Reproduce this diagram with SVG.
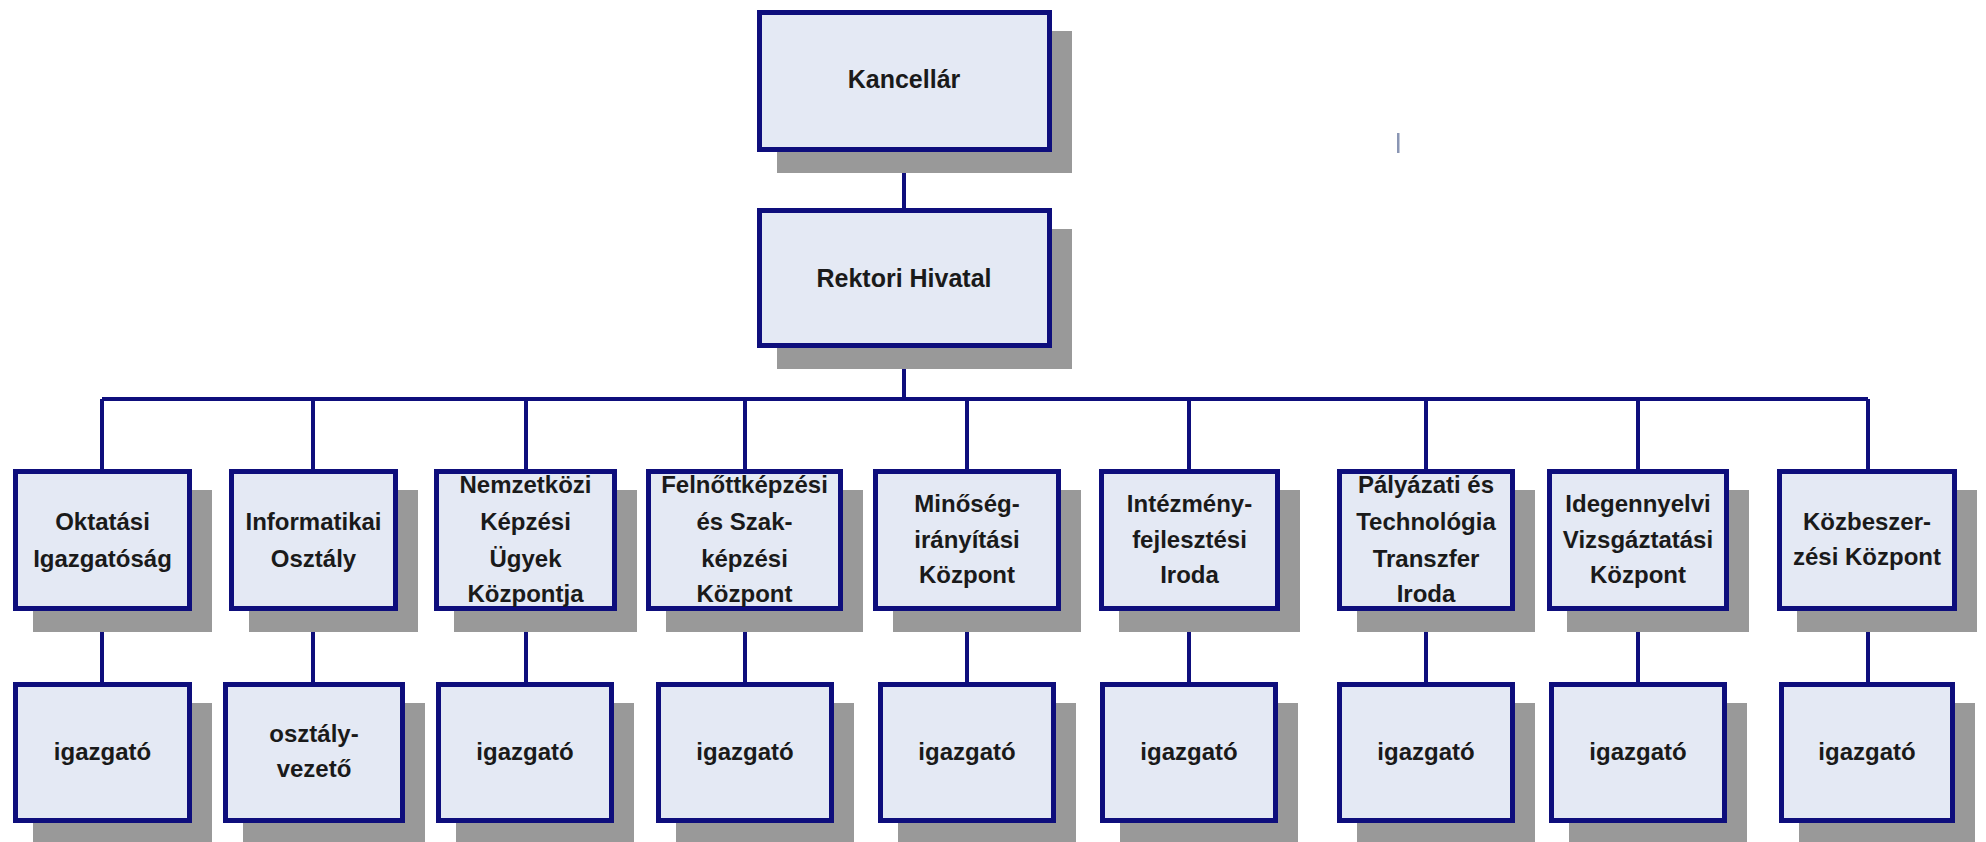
<svg xmlns="http://www.w3.org/2000/svg" width="1986" height="842" viewBox="0 0 1986 842">
<style>
.sh{fill:#999999}
.bx{fill:#E4E9F4;stroke:#0E0E7C;stroke-width:5}
.t{font-family:"Liberation Sans",Arial,sans-serif;font-weight:bold;font-size:24px;fill:#1a1a1a;text-anchor:middle}
.t2{font-size:25px}
.ln{stroke:#0E0E7C;stroke-width:4;fill:none}
</style>
<rect width="1986" height="842" fill="#ffffff"/>
<g id="connectors">
<path class="ln" d="M904 152V208M904 348V399M102 399H1868"/>
<path class="ln" d="M102 399V469M313 399V469M526 399V469M745 399V469M967 399V469M1189 399V469M1426 399V469M1638 399V469M1868 399V469"/>
<path class="ln" d="M102 611V682M313 611V682M526 611V682M745 611V682M967 611V682M1189 611V682M1426 611V682M1638 611V682M1868 611V682"/>
</g>
<g id="kancellar"><rect class="sh" x="777" y="31" width="295" height="142"/><rect class="bx" x="759.5" y="12.5" width="290" height="137"/><text class="t t2" x="904" y="88">Kancellár</text></g>
<g id="rektori"><rect class="sh" x="777" y="229" width="295" height="140"/><rect class="bx" x="759.5" y="210.5" width="290" height="135"/><text class="t t2" x="904" y="287">Rektori Hivatal</text></g>

<g id="n1"><rect class="sh" x="33" y="490" width="179" height="142"/><rect class="bx" x="15.5" y="471.5" width="174" height="137"/><text class="t" x="102.5" y="530">Oktatási</text><text class="t" x="102.5" y="567">Igazgatóság</text></g>
<g id="n2"><rect class="sh" x="249" y="490" width="169" height="142"/><rect class="bx" x="231.5" y="471.5" width="164" height="137"/><text class="t" x="313.5" y="530">Informatikai</text><text class="t" x="313.5" y="567">Osztály</text></g>
<g id="n3"><rect class="sh" x="454" y="490" width="183" height="142"/><rect class="bx" x="436.5" y="471.5" width="178" height="137"/><text class="t" x="525.5" y="493">Nemzetközi</text><text class="t" x="525.5" y="530">Képzési</text><text class="t" x="525.5" y="567">Ügyek</text><text class="t" x="525.5" y="602">Központja</text></g>
<g id="n4"><rect class="sh" x="666" y="490" width="197" height="142"/><rect class="bx" x="648.5" y="471.5" width="192" height="137"/><text class="t" x="744.5" y="493">Felnőttképzési</text><text class="t" x="744.5" y="530">és Szak-</text><text class="t" x="744.5" y="567">képzési</text><text class="t" x="744.5" y="602">Központ</text></g>
<g id="n5"><rect class="sh" x="893" y="490" width="188" height="142"/><rect class="bx" x="875.5" y="471.5" width="183" height="137"/><text class="t" x="967" y="512">Minőség-</text><text class="t" x="967" y="548">irányítási</text><text class="t" x="967" y="583">Központ</text></g>
<g id="n6"><rect class="sh" x="1119" y="490" width="181" height="142"/><rect class="bx" x="1101.5" y="471.5" width="176" height="137"/><text class="t" x="1189.5" y="512">Intézmény-</text><text class="t" x="1189.5" y="548">fejlesztési</text><text class="t" x="1189.5" y="583">Iroda</text></g>
<g id="n7"><rect class="sh" x="1357" y="490" width="178" height="142"/><rect class="bx" x="1339.5" y="471.5" width="173" height="137"/><text class="t" x="1426" y="493">Pályázati és</text><text class="t" x="1426" y="530">Technológia</text><text class="t" x="1426" y="567">Transzfer</text><text class="t" x="1426" y="602">Iroda</text></g>
<g id="n8"><rect class="sh" x="1567" y="490" width="182" height="142"/><rect class="bx" x="1549.5" y="471.5" width="177" height="137"/><text class="t" x="1638" y="512">Idegennyelvi</text><text class="t" x="1638" y="548">Vizsgáztatási</text><text class="t" x="1638" y="583">Központ</text></g>
<g id="n9"><rect class="sh" x="1797" y="490" width="180" height="142"/><rect class="bx" x="1779.5" y="471.5" width="175" height="137"/><text class="t" x="1867" y="530">Közbeszer-</text><text class="t" x="1867" y="565">zési Központ</text></g>

<g id="m1"><rect class="sh" x="33" y="703" width="179" height="141"/><rect class="bx" x="15.5" y="684.5" width="174" height="136"/><text class="t" x="102.5" y="760">igazgató</text></g>
<g id="m2"><rect class="sh" x="243" y="703" width="182" height="141"/><rect class="bx" x="225.5" y="684.5" width="177" height="136"/><text class="t" x="314" y="742">osztály-</text><text class="t" x="314" y="777">vezető</text></g>
<g id="m3"><rect class="sh" x="456" y="703" width="178" height="141"/><rect class="bx" x="438.5" y="684.5" width="173" height="136"/><text class="t" x="525" y="760">igazgató</text></g>
<g id="m4"><rect class="sh" x="676" y="703" width="178" height="141"/><rect class="bx" x="658.5" y="684.5" width="173" height="136"/><text class="t" x="745" y="760">igazgató</text></g>
<g id="m5"><rect class="sh" x="898" y="703" width="178" height="141"/><rect class="bx" x="880.5" y="684.5" width="173" height="136"/><text class="t" x="967" y="760">igazgató</text></g>
<g id="m6"><rect class="sh" x="1120" y="703" width="178" height="141"/><rect class="bx" x="1102.5" y="684.5" width="173" height="136"/><text class="t" x="1189" y="760">igazgató</text></g>
<g id="m7"><rect class="sh" x="1357" y="703" width="178" height="141"/><rect class="bx" x="1339.5" y="684.5" width="173" height="136"/><text class="t" x="1426" y="760">igazgató</text></g>
<g id="m8"><rect class="sh" x="1569" y="703" width="178" height="141"/><rect class="bx" x="1551.5" y="684.5" width="173" height="136"/><text class="t" x="1638" y="760">igazgató</text></g>
<g id="m9"><rect class="sh" x="1799" y="703" width="176" height="141"/><rect class="bx" x="1781.5" y="684.5" width="171" height="136"/><text class="t" x="1867" y="760">igazgató</text></g>

<rect x="1397" y="133" width="2.5" height="20" fill="#8A96B4"/>
</svg>
